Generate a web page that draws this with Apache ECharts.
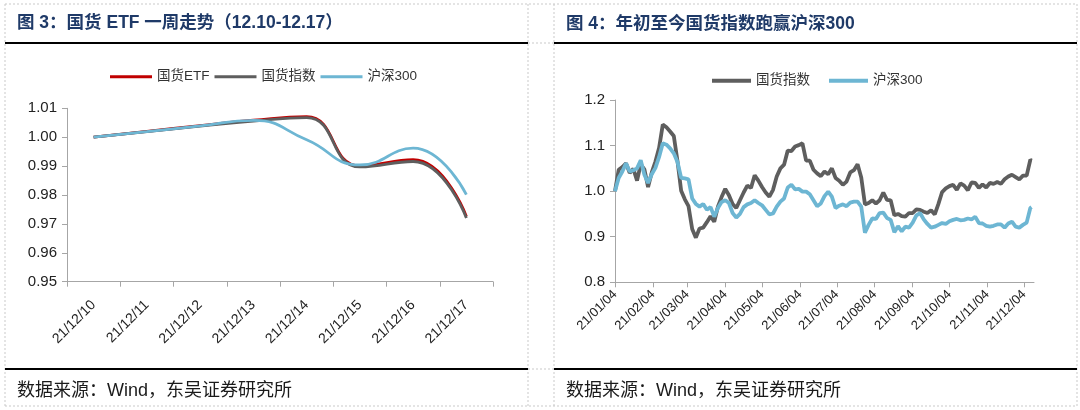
<!DOCTYPE html>
<html><head><meta charset="utf-8">
<script src="https://cdn.jsdelivr.net/npm/echarts@6/dist/echarts.min.js"></script>
<style>
html,body{margin:0;padding:0;background:#fff}
#wrap{position:relative;width:1080px;height:410px;background:#fff}
#left{position:absolute;left:0;top:0;width:540px;height:410px}
#right{position:absolute;left:540px;top:0;width:540px;height:410px}
</style>
</head><body><div id="wrap"><div id="left"></div><div id="right"></div></div>
<script>
// ---------- Figure 3 data ----------
const weekDates = ['21/12/10','21/12/11','21/12/12','21/12/13','21/12/14','21/12/15','21/12/16','21/12/17'];
const weekEtf   = [1.000, 1.002, 1.004, 1.0059, 1.0071, 0.9901, 0.9922, 0.9726];
const weekIndex = [1.000, 1.0019, 1.0038, 1.0056, 1.0068, 0.9897, 0.9916, 0.9720];
const weekHs300 = [1.000, 1.0019, 1.0039, 1.0058, 0.9991, 0.9904, 0.9962, 0.9801];

// ---------- Figure 4 data ----------
const ytdDates = ['2021-01-04','2021-01-07','2021-01-10','2021-01-13','2021-01-16','2021-01-19','2021-01-22','2021-01-25','2021-01-28','2021-01-31',
'2021-02-03','2021-02-06','2021-02-09','2021-02-12','2021-02-15','2021-02-18','2021-02-21','2021-02-24','2021-02-27','2021-03-02',
'2021-03-05','2021-03-08','2021-03-11','2021-03-14','2021-03-17','2021-03-20','2021-03-23','2021-03-26','2021-03-29','2021-04-01',
'2021-04-04','2021-04-07','2021-04-10','2021-04-13','2021-04-16','2021-04-19','2021-04-22','2021-04-25','2021-04-28','2021-05-01',
'2021-05-04','2021-05-07','2021-05-10','2021-05-13','2021-05-16','2021-05-19','2021-05-22','2021-05-25','2021-05-28','2021-05-31',
'2021-06-03','2021-06-06','2021-06-09','2021-06-12','2021-06-15','2021-06-18','2021-06-21','2021-06-24','2021-06-27','2021-06-30',
'2021-07-03','2021-07-06','2021-07-09','2021-07-12','2021-07-15','2021-07-18','2021-07-21','2021-07-24','2021-07-27','2021-07-30',
'2021-08-02','2021-08-05','2021-08-08','2021-08-11','2021-08-14','2021-08-17','2021-08-20','2021-08-23','2021-08-26','2021-08-29',
'2021-09-01','2021-09-04','2021-09-07','2021-09-10','2021-09-13','2021-09-16','2021-09-19','2021-09-22','2021-09-25','2021-09-28',
'2021-10-01','2021-10-04','2021-10-07','2021-10-10','2021-10-13','2021-10-16','2021-10-19','2021-10-22','2021-10-25','2021-10-28',
'2021-10-31','2021-11-03','2021-11-06','2021-11-09','2021-11-12','2021-11-15','2021-11-18','2021-11-21','2021-11-24','2021-11-27',
'2021-11-30','2021-12-03','2021-12-06','2021-12-09','2021-12-10'];
const ytdGuohuo = [1.000,1.047,1.053,1.061,1.040,1.049,1.023,1.059,1.048,1.009,
1.041,1.065,1.095,1.146,1.140,1.131,1.121,1.066,1.001,0.982,
0.967,0.917,0.898,0.918,0.920,0.932,0.945,0.933,0.966,0.987,
1.005,0.991,0.972,0.963,0.980,0.997,1.012,1.007,1.035,1.023,
1.009,0.997,0.988,1.003,1.032,1.050,1.058,1.089,1.088,1.098,
1.101,1.105,1.067,1.067,1.047,1.039,1.033,1.043,1.037,1.050,
1.029,1.023,1.014,1.021,1.041,1.046,1.059,1.030,0.971,0.974,
0.980,0.973,0.980,0.997,0.981,0.980,0.947,0.950,0.945,0.944,
0.952,0.952,0.960,0.959,0.955,0.952,0.958,0.949,0.972,0.998,
1.006,1.011,1.014,1.003,1.017,1.012,1.002,1.019,1.018,1.007,
1.015,1.008,1.018,1.016,1.020,1.016,1.026,1.032,1.036,1.031,
1.026,1.034,1.034,1.069,1.067];
const ytdHs300 = [1.000,1.029,1.043,1.061,1.043,1.046,1.050,1.068,1.036,1.018,
1.037,1.051,1.075,1.105,1.102,1.094,1.083,1.064,1.029,1.028,
1.026,0.984,0.972,0.966,0.972,0.959,0.965,0.944,0.963,0.976,
0.980,0.974,0.952,0.942,0.950,0.965,0.971,0.974,0.980,0.974,
0.969,0.959,0.949,0.951,0.966,0.977,0.984,1.008,1.014,1.004,
1.005,0.999,0.999,0.993,0.980,0.967,0.973,0.989,0.999,0.988,
0.963,0.968,0.971,0.967,0.975,0.977,0.977,0.966,0.909,0.926,
0.940,0.939,0.952,0.953,0.941,0.937,0.910,0.923,0.912,0.922,
0.920,0.931,0.947,0.952,0.938,0.928,0.920,0.922,0.926,0.930,
0.928,0.934,0.937,0.939,0.936,0.937,0.940,0.938,0.944,0.930,
0.929,0.924,0.922,0.924,0.927,0.927,0.920,0.929,0.933,0.922,
0.920,0.926,0.931,0.963,0.965];
const ytdTickDates = ['2021-01-04','2021-02-04','2021-03-04','2021-04-04','2021-05-04','2021-06-04',
'2021-07-04','2021-08-04','2021-09-04','2021-10-04','2021-11-04','2021-12-04'];
const ytdAxisStart = '2021-01-04', ytdAxisEnd = '2021-12-12';

// ---------- styles ----------
const FONT = '"Liberation Sans", Arial, "Noto Sans CJK SC", sans-serif';
const TITLE_COLOR = '#1f3a68';
const AXIS_COLOR = '#a6a6a6';
const RED = '#c00000', GREY = '#5e5e5e', BLUE = '#6db6d3';

function frame(offsetX) {
  const dash = {stroke:'#c9c9c9', lineWidth:1, lineDash:[2,2]};
  const g = [];
  const L = 5 - offsetX, R = 528 - offsetX, L2 = 554 - offsetX, R2 = 1077 - offsetX;
  [[L,4,L,406],[R,4,R,406],[L2,4,L2,406],[R2,4,R2,406],[L,4,R2,4],[L,406,R2,406],[R,43,L2,43],[R,369,L2,369]]
    .forEach(s => g.push({type:'line', silent:true, shape:{x1:s[0],y1:s[1],x2:s[2],y2:s[3]}, style:dash}));
  return g;
}
function solidLines(x1, x2) {
  return [43, 369].map(y => ({type:'line', silent:true, shape:{x1:x1,y1:y,x2:x2,y2:y}, style:{stroke:'#000', lineWidth:2}}));
}
function textEl(x, y, text, font, fill) {
  return {type:'text', x:x, y:y, silent:true, style:{text:text, font:font, fill:fill, verticalAlign:'middle', align:'left'}};
}
function ts(s){ return new Date(s + 'T00:00:00').getTime(); }
function pad(n){ return n < 10 ? '0' + n : '' + n; }

// ---------- Left chart ----------
const left = echarts.init(document.getElementById('left'));
left.setOption({
  animation:false,
  graphic: [].concat(frame(0), solidLines(5, 528), [
    textEl(17, 23, '图 3：国货 ETF 一周走势（12.10-12.17）', 'bold 17.5px ' + FONT, TITLE_COLOR),
    textEl(17, 391, '数据来源：Wind，东吴证券研究所', '18px ' + FONT, '#1a1a1a')
  ]),
  legend: {
    left:110, top:70, padding:0, icon:'rect', itemWidth:42, itemHeight:3, itemGap:5,
    textStyle:{fontSize:13.5, color:'#333', fontFamily:FONT},
    data:['国货ETF','国货指数','沪深300']
  },
  grid: {left:67, top:108.3, width:426, height:173.4},
  xAxis: {
    type:'category', data:weekDates, boundaryGap:true,
    axisLine:{lineStyle:{color:AXIS_COLOR}},
    axisTick:{show:true, length:5, lineStyle:{color:AXIS_COLOR}},
    axisLabel:{rotate:45, fontSize:14, color:'#222', fontFamily:FONT, margin:21, interval:0}
  },
  yAxis: {
    type:'value', min:0.95, max:1.01, interval:0.01,
    splitLine:{show:false},
    axisLine:{show:true, lineStyle:{color:AXIS_COLOR}},
    axisTick:{show:true, length:5, lineStyle:{color:AXIS_COLOR}},
    axisLabel:{fontSize:15, color:'#222', fontFamily:FONT, margin:10, formatter:v => v.toFixed(2)}
  },
  series: [
    {name:'国货ETF', type:'line', data:weekEtf, smooth:true, symbol:'none', lineStyle:{color:RED, width:2.8}, itemStyle:{color:RED}},
    {name:'国货指数', type:'line', data:weekIndex, smooth:true, symbol:'none', lineStyle:{color:GREY, width:2.8}, itemStyle:{color:GREY}},
    {name:'沪深300', type:'line', data:weekHs300, smooth:true, symbol:'none', lineStyle:{color:BLUE, width:2.8}, itemStyle:{color:BLUE}}
  ]
});

// ---------- Right chart ----------
const OX = 540;
const tickVals = ytdTickDates.map(ts);
const right = echarts.init(document.getElementById('right'));
right.setOption({
  animation:false,
  graphic: [].concat(frame(OX), solidLines(554 - OX, 1077 - OX), [
    textEl(566 - OX, 24, '图 4：年初至今国货指数跑赢沪深300', 'bold 17.5px ' + FONT, TITLE_COLOR),
    textEl(566 - OX, 391, '数据来源：Wind，东吴证券研究所', '18px ' + FONT, '#1a1a1a')
  ]),
  legend: {
    left:712 - OX, top:74, padding:0, icon:'rect', itemWidth:39, itemHeight:4, itemGap:19,
    textStyle:{fontSize:13.5, color:'#333', fontFamily:FONT},
    data:['国货指数','沪深300']
  },
  grid: {left:615 - OX, top:100, width:419, height:182.3},
  xAxis: {
    type:'value', min: ts(ytdAxisStart), max: ts(ytdAxisEnd),
    splitLine:{show:false},
    axisLine:{lineStyle:{color:AXIS_COLOR}},
    axisTick:{show:true, length:5, lineStyle:{color:AXIS_COLOR}, customValues:tickVals},
    axisLabel:{rotate:45, fontSize:13, color:'#222', fontFamily:FONT, margin:10, hideOverlap:false,
      customValues:tickVals,
      formatter: v => { const d = new Date(v); return String(d.getFullYear()).slice(2) + '/' + pad(d.getMonth()+1) + '/' + pad(d.getDate()); }}
  },
  yAxis: {
    type:'value', min:0.8, max:1.2, interval:0.1,
    splitLine:{show:false},
    axisLine:{show:true, lineStyle:{color:AXIS_COLOR}},
    axisTick:{show:true, length:5, lineStyle:{color:AXIS_COLOR}},
    axisLabel:{fontSize:15, color:'#222', fontFamily:FONT, margin:10, formatter:v => v.toFixed(1)}
  },
  series: [
    {name:'国货指数', type:'line', data:ytdDates.map((d,i)=>[ts(d), ytdGuohuo[i]]), symbol:'none', lineStyle:{color:GREY, width:3.8}, itemStyle:{color:GREY}},
    {name:'沪深300', type:'line', data:ytdDates.map((d,i)=>[ts(d), ytdHs300[i]]), symbol:'none', lineStyle:{color:BLUE, width:3.8}, itemStyle:{color:BLUE}}
  ]
});
</script></body></html>
